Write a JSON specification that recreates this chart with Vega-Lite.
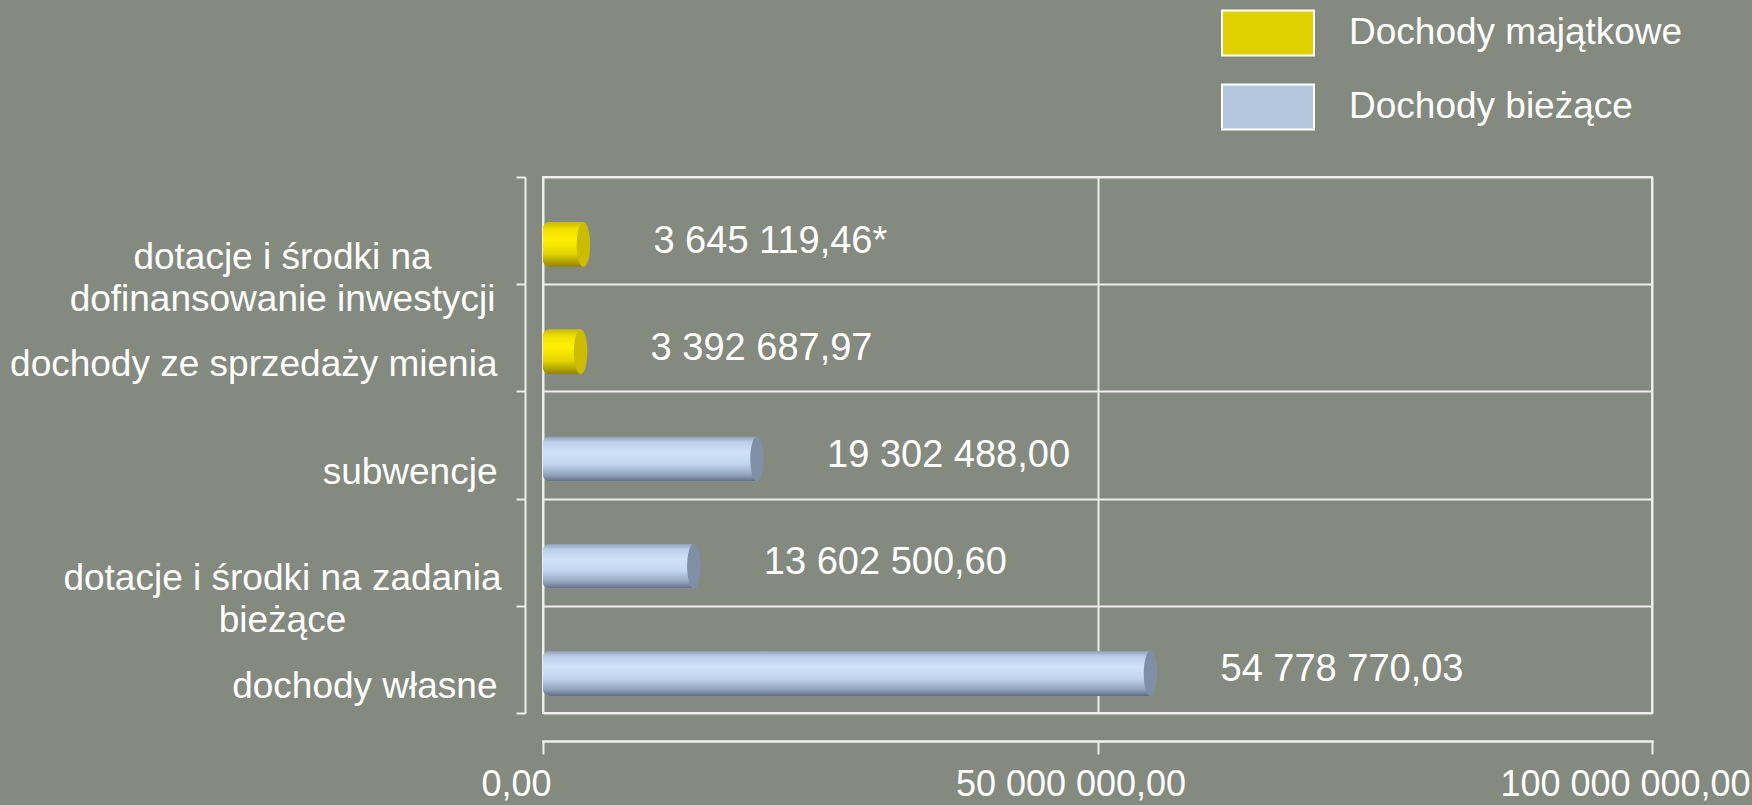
{
  "$schema": "https://vega.github.io/schema/vega-lite/v6.json",
  "width": 1109,
  "height": 536,
  "autosize": {"type": "none"},
  "padding": {"left": 543, "top": 177, "right": 100, "bottom": 92},
  "background": "#848a7f",
  "config": {
    "locale": {"number": {"decimal": ",", "thousands": " ", "grouping": [3], "currency": ["", ""]}},
    "view": {"stroke": "#eeeeea", "strokeWidth": 2},
    "font": "Liberation Sans",
    "axisX": {"domain": true, "domainColor": "#f0f0ec", "domainWidth": 2.5, "domainCap": "square"}
  },
  "data": {
    "values": [
      {"kategoria": "dotacje i środki na|dofinansowanie inwestycji", "wartosc": 3645119.46, "typ": "Dochody majątkowe", "etykieta": "3 645 119,46*"},
      {"kategoria": "dochody ze sprzedaży mienia", "wartosc": 3392687.97, "typ": "Dochody majątkowe", "etykieta": "3 392 687,97"},
      {"kategoria": "subwencje", "wartosc": 19302488.00, "typ": "Dochody bieżące", "etykieta": "19 302 488,00"},
      {"kategoria": "dotacje i środki na zadania|bieżące", "wartosc": 13602500.60, "typ": "Dochody bieżące", "etykieta": "13 602 500,60"},
      {"kategoria": "dochody własne", "wartosc": 54778770.03, "typ": "Dochody bieżące", "etykieta": "54 778 770,03"}
    ]
  },
  "encoding": {
    "x": {
      "field": "wartosc",
      "type": "quantitative",
      "scale": {"domain": [0, 100000000], "nice": false},
      "axis": {
        "title": null,
        "values": [0, 50000000, 100000000],
        "format": ",.2f",
        "offset": 28,
        "tickSize": 13,
        "tickColor": "#eeeeea",
        "tickWidth": 2,
        "grid": true,
        "gridColor": "#eeeeea",
        "gridWidth": 2,
        "gridOpacity": 1,
        "labelColor": "#ffffff",
        "labelFontSize": 36,
        "labelFont": "Liberation Sans",
        "labelPadding": 13,
        "labelOffset": -27,
        "labelLimit": 600,
        "labelFlush": false,
        "labelOverlap": false
      }
    }
  },
  "layer": [
    {
      "mark": {"type": "bar", "size": 45, "yOffset": 14, "cornerRadiusTopLeft": 7, "cornerRadiusBottomLeft": 7},
      "encoding": {
        "y": {
          "field": "kategoria",
          "type": "nominal",
          "sort": null,
          "scale": {"paddingInner": 0, "paddingOuter": 0},
          "axis": {
            "title": null,
            "orient": "left",
            "offset": 18,
            "tickBand": "extent",
            "domainColor": "#eeeeea",
            "domainWidth": 2,
            "tickColor": "#eeeeea",
            "tickWidth": 2,
            "tickSize": 9,
            "grid": true,
            "gridColor": "#eeeeea",
            "gridWidth": 2,
            "gridOpacity": 1,
            "labelColor": "#ffffff",
            "labelFontSize": 37,
            "labelFont": "Liberation Sans",
            "labelExpr": "indexof(datum.label, '|') >= 0 ? '' : datum.label",
            "labelOffset": 27,
            "labelLimit": 700,
            "labelAlign": "right",
            "labelPadding": 19
          }
        },
        "color": {
          "field": "typ",
          "type": "nominal",
          "scale": {"domain": ["Dochody majątkowe", "Dochody bieżące"], "range": ["#e1d100", "#b3c6db"]},
          "legend": {
            "title": null,
            "orient": "none",
            "legendX": 678,
            "legendY": -191,
            "padding": 0,
            "symbolType": "M-1,-0.49H1V0.49H-1Z",
            "symbolSize": 8464,
            "symbolStrokeColor": "#ffffff",
            "symbolStrokeWidth": 2,
            "symbolOpacity": 1,
            "labelFontSize": 37,
            "labelColor": "#ffffff",
            "labelFont": "Liberation Sans",
            "labelOffset": 34,
            "labelLimit": 600,
            "rowPadding": -13
          }
        }
      }
    },
    {
      "transform": [{"filter": "datum.typ === 'Dochody bieżące'"}],
      "mark": {
        "type": "bar",
        "size": 45,
        "yOffset": 14,
        "cornerRadiusTopLeft": 7,
        "cornerRadiusBottomLeft": 7,
        "color": {
          "gradient": "linear", "x1": 0, "y1": 0, "x2": 0, "y2": 1,
          "stops": [
            {"offset": 0, "color": "#8c9db5"},
            {"offset": 0.12, "color": "#bccfe8"},
            {"offset": 0.35, "color": "#d0e2f8"},
            {"offset": 0.6, "color": "#c4d7f0"},
            {"offset": 0.85, "color": "#93a5bd"},
            {"offset": 1, "color": "#5f6e82"}
          ]
        }
      },
      "encoding": {"y": {"field": "kategoria", "type": "nominal", "sort": null, "axis": null}}
    },
    {
      "transform": [{"filter": "datum.typ === 'Dochody majątkowe'"}],
      "mark": {
        "type": "bar",
        "size": 45,
        "yOffset": 14,
        "cornerRadiusTopLeft": 7,
        "cornerRadiusBottomLeft": 7,
        "color": {
          "gradient": "linear", "x1": 0, "y1": 0, "x2": 0, "y2": 1,
          "stops": [
            {"offset": 0, "color": "#c9b800"},
            {"offset": 0.15, "color": "#f0e000"},
            {"offset": 0.4, "color": "#fff000"},
            {"offset": 0.7, "color": "#e5d400"},
            {"offset": 1, "color": "#8f8200"}
          ]
        }
      },
      "encoding": {"y": {"field": "kategoria", "type": "nominal", "sort": null, "axis": null}}
    },
    {
      "transform": [{"filter": "datum.typ === 'Dochody bieżące'"}],
      "mark": {
        "type": "point",
        "filled": true,
        "opacity": 1,
        "yOffset": 14,
        "shape": "M0,-1 A0.3,1 0 1,1 0,1 A0.3,1 0 1,1 0,-1 Z",
        "size": 2025,
        "color": "#7f8fa6"
      },
      "encoding": {"y": {"field": "kategoria", "type": "nominal", "sort": null, "axis": null}}
    },
    {
      "transform": [{"filter": "datum.typ === 'Dochody majątkowe'"}],
      "mark": {
        "type": "point",
        "filled": true,
        "opacity": 1,
        "yOffset": 14,
        "shape": "M0,-1 A0.3,1 0 1,1 0,1 A0.3,1 0 1,1 0,-1 Z",
        "size": 2025,
        "color": "#cbbc00"
      },
      "encoding": {"y": {"field": "kategoria", "type": "nominal", "sort": null, "axis": null}}
    },
    {
      "mark": {"type": "text", "align": "left", "baseline": "middle", "dx": 70, "yOffset": 11, "fontSize": 38, "font": "Liberation Sans", "color": "#ffffff"},
      "encoding": {
        "y": {
          "field": "kategoria",
          "type": "nominal",
          "sort": null,
          "axis": {
            "title": null,
            "orient": "left",
            "offset": 18,
            "domain": false,
            "ticks": false,
            "grid": false,
            "labelColor": "#ffffff",
            "labelFontSize": 37,
            "labelFont": "Liberation Sans",
            "labelExpr": "indexof(datum.label, '|') >= 0 ? split(datum.label, '|') : ''",
            "labelLineHeight": 42,
            "labelOffset": 27,
            "labelLimit": 700,
            "labelAlign": "center",
            "labelPadding": 243
          }
        },
        "text": {"field": "etykieta", "type": "nominal"}
      }
    }
  ],
  "resolve": {"axis": {"y": "independent"}}
}
